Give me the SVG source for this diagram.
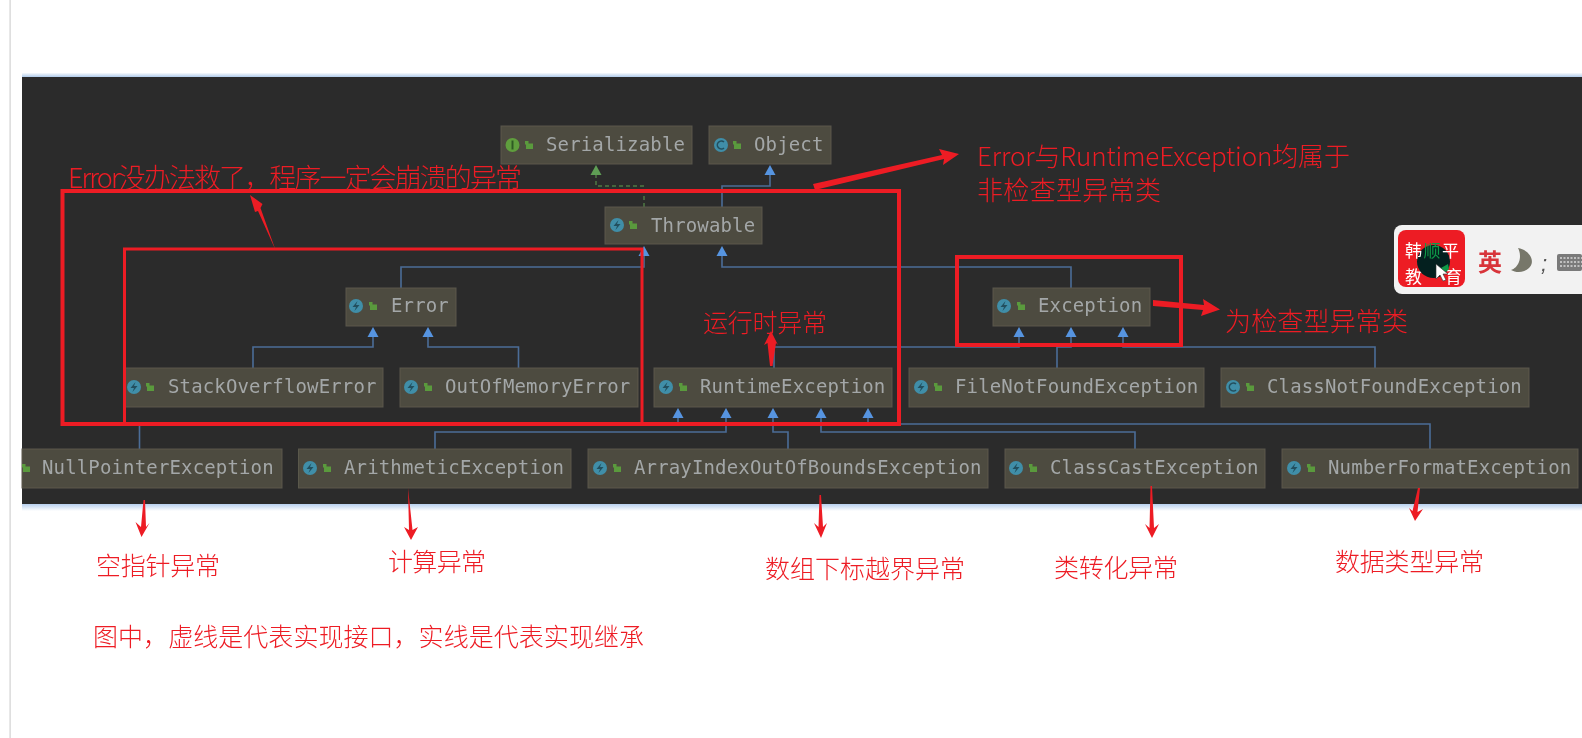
<svg xmlns="http://www.w3.org/2000/svg" xmlns:xlink="http://www.w3.org/1999/xlink" width="1582" height="738" viewBox="0 0 1582 738">
<style>
.n{fill:#4e4b3f;stroke:#5a584c;stroke-width:1}
.t{font-family:"DejaVu Sans Mono","Liberation Mono",monospace;font-size:19px;letter-spacing:.15px;fill:#a3a7a8}
.c{fill:none;stroke:#4c6d98;stroke-width:1.6}
.d{fill:none;stroke:#4f7a45;stroke-width:1.5;stroke-dasharray:4 3}
.r{fill:none;stroke:#ed1c24}
.a{fill:#ed1c24}
.h{font-family:"Noto Sans CJK SC","Noto Sans",sans-serif;font-weight:300;font-size:25px;fill:#ed1c24}
.w{font-family:"Noto Sans CJK SC",sans-serif;font-size:17px;fill:#fff}
</style>
<defs>
<linearGradient id="gt" x1="0" y1="0" x2="0" y2="1"><stop offset="0" stop-color="#fff"/><stop offset="1" stop-color="#b0cbea"/></linearGradient>
<linearGradient id="gb" x1="0" y1="0" x2="0" y2="1"><stop offset="0" stop-color="#b8d0ee"/><stop offset="1" stop-color="#fff"/></linearGradient>
<filter id="soft" x="-2%" y="-2%" width="104%" height="104%"><feGaussianBlur stdDeviation="0.45"/></filter>
<g id="lock"><rect x="-3" y="-1.500" width="7" height="5.500" fill="#5a9a3e"/><rect x="-4" y="-4" width="3.500" height="3.500" fill="#5a9a3e"/></g>
<g id="ie"><circle r="7" fill="#3f8ea8"/><path d="M1.500-5-3.500 1H0L-1.500 5 3.500-1H0z" fill="#24505e"/></g>
<g id="ic"><circle r="7" fill="#3f8ea8"/><path d="M3-3A4 4 0 1 0 3 3" fill="none" stroke="#24505e" stroke-width="1.600"/></g>
<g id="ii"><circle r="7" fill="#5f9e3e"/><rect x="-1" y="-4.500" width="2" height="9" fill="#2f5a22"/></g>
<path id="up" d="M0 0 5.500 10H-5.500z" fill="#5794e0"/>
<path id="ug" d="M0 0 5.500 10H-5.500z" fill="#5f9e55"/>
</defs>
<rect width="1582" height="738" fill="#fff"/>
<rect x="9.500" width="1.200" height="738" fill="#d2d2d2"/>
<rect x="22" y="72.500" width="1560" height="4.500" fill="url(#gt)"/>
<rect x="22" y="77" width="1560" height="427" fill="#2b2b2b"/>
<rect x="22" y="504" width="1560" height="7" fill="url(#gb)"/>

<g id="connectors" filter="url(#soft)">
<path class="d" d="M644 207V186H596V174"/>
<use xlink:href="#ug" x="596" y="165"/>
<path class="c" d="M722 207V186H770V174"/><use xlink:href="#up" x="770" y="165"/>
<path class="c" d="M401 288V267H644V255"/><use xlink:href="#up" x="644" y="246"/>
<path class="c" d="M1071 288V267H722V255"/><use xlink:href="#up" x="722" y="246"/>
<path class="c" d="M253 368V347H373V336"/><use xlink:href="#up" x="373" y="327"/>
<path class="c" d="M518.500 368V347H428V336"/><use xlink:href="#up" x="428" y="327"/>
<path class="c" d="M774 368V347H1019V336"/><use xlink:href="#up" x="1019" y="327"/>
<path class="c" d="M1057 368V347H1071V336"/><use xlink:href="#up" x="1071" y="327"/>
<path class="c" d="M1375 368V347H1123V336"/><use xlink:href="#up" x="1123" y="327"/>
<path class="c" d="M139.500 449V424H678V417"/><use xlink:href="#up" x="678" y="408"/>
<path class="c" d="M435 449V432H726V417"/><use xlink:href="#up" x="726" y="408"/>
<path class="c" d="M788 449V432H773V417"/><use xlink:href="#up" x="773" y="408"/>
<path class="c" d="M1135 449V432H821V417"/><use xlink:href="#up" x="821" y="408"/>
<path class="c" d="M1430 449V424H868V417"/><use xlink:href="#up" x="868" y="408"/>
</g>

<g id="nodes" filter="url(#soft)">
<g id="serializable"><rect class="n" x="501" y="126" width="191" height="38"/><use xlink:href="#ii" x="512.500" y="145"/><use xlink:href="#lock" x="529" y="145"/><text class="t" x="546" y="151">Serializable</text></g>
<g id="object"><rect class="n" x="709" y="126" width="122" height="38"/><use xlink:href="#ic" x="721" y="145"/><use xlink:href="#lock" x="737" y="145"/><text class="t" x="754" y="151">Object</text></g>
<g id="throwable"><rect class="n" x="605" y="207" width="157" height="37"/><use xlink:href="#ie" x="617" y="225"/><use xlink:href="#lock" x="633" y="225"/><text class="t" x="651" y="232">Throwable</text></g>
<g id="error"><rect class="n" x="346" y="288" width="110" height="38"/><use xlink:href="#ie" x="356" y="306"/><use xlink:href="#lock" x="373" y="306"/><text class="t" x="391" y="312">Error</text></g>
<g id="exception"><rect class="n" x="993" y="288" width="157" height="38"/><use xlink:href="#ie" x="1004" y="306"/><use xlink:href="#lock" x="1021" y="306"/><text class="t" x="1038" y="312">Exception</text></g>
<g id="stackoverflow"><rect class="n" x="124.500" y="368" width="258.500" height="39"/><use xlink:href="#ie" x="134" y="387"/><use xlink:href="#lock" x="150" y="387"/><text class="t" x="168" y="393">StackOverflowError</text></g>
<g id="outofmemory"><rect class="n" x="400" y="368" width="238" height="39"/><use xlink:href="#ie" x="411" y="387"/><use xlink:href="#lock" x="428" y="387"/><text class="t" x="445" y="393">OutOfMemoryError</text></g>
<g id="runtime"><rect class="n" x="654" y="368" width="238" height="39"/><use xlink:href="#ie" x="666" y="387"/><use xlink:href="#lock" x="683" y="387"/><text class="t" x="700" y="393">RuntimeException</text></g>
<g id="filenotfound"><rect class="n" x="909" y="368" width="295" height="39"/><use xlink:href="#ie" x="921" y="387"/><use xlink:href="#lock" x="938" y="387"/><text class="t" x="955" y="393">FileNotFoundException</text></g>
<g id="classnotfound"><rect class="n" x="1221" y="368" width="308" height="39"/><use xlink:href="#ic" x="1233" y="387"/><use xlink:href="#lock" x="1250" y="387"/><text class="t" x="1267" y="393">ClassNotFoundException</text></g>
<g id="nullpointer"><rect class="n" x="22" y="449" width="260" height="39"/><use xlink:href="#lock" x="26" y="468"/><text class="t" x="42" y="474">NullPointerException</text></g>
<g id="arithmetic"><rect class="n" x="298.500" y="449" width="272.500" height="39"/><use xlink:href="#ie" x="310" y="468"/><use xlink:href="#lock" x="327" y="468"/><text class="t" x="344" y="474">ArithmeticException</text></g>
<g id="arrayindex"><rect class="n" x="588" y="449" width="400" height="39"/><use xlink:href="#ie" x="600" y="468"/><use xlink:href="#lock" x="617" y="468"/><text class="t" x="634" y="474">ArrayIndexOutOfBoundsException</text></g>
<g id="classcast"><rect class="n" x="1005" y="449" width="260" height="39"/><use xlink:href="#ie" x="1016" y="468"/><use xlink:href="#lock" x="1033" y="468"/><text class="t" x="1050" y="474">ClassCastException</text></g>
<g id="numberformat"><rect class="n" x="1282" y="449" width="296" height="39"/><use xlink:href="#ie" x="1294" y="468"/><use xlink:href="#lock" x="1311" y="468"/><text class="t" x="1328" y="474">NumberFormatException</text></g>
</g>

<g id="annotation-boxes">
<rect class="r" x="62.500" y="191" width="836.500" height="233" stroke-width="4"/>
<rect class="r" x="124.500" y="249" width="517.500" height="175" stroke-width="3"/>
<rect class="r" x="957" y="257" width="224" height="88" stroke-width="4"/>
</g>
<g id="annotation-arrows">
<path class="a" d="M275.500 250 260.500 208 262.500 204 250 195 255 212 258 211z"/>
<path class="a" d="M813 184 942 155 939 149 959 154 943 165 944 159 815 190z"/>
<path class="a" d="M1153 300 1204 305 1203 299 1220 309.500 1201 316 1203 310 1153 306z"/>
<path class="a" d="M772.500 366 776 343 778 345 771 331 764 345 767.500 343 770 366z"/>
<path class="a" d="M145 500 146 527 149.500 523 141.500 537 135.500 522 141 527 143.500 500z"/>
<path class="a" d="M408 488 412.500 530 418 527 411 540 404 527 409 530z"/>
<path class="a" d="M819.500 495 818.500 527 814 523 821 538 827 523 823 527 821 495z"/>
<path class="a" d="M1150.500 486 1149.500 528 1145 524 1152 538 1159 524 1154 528 1152 486z"/>
<path class="a" d="M1418 488 1412.500 511 1409 508 1415 521 1423 509 1417.500 512 1420 488z"/>
</g>
<g id="annotation-text">
<text class="h" x="68" y="188" textLength="454" style="font-size:27px">Error没办法救了，程序一定会崩溃的异常</text>
<text class="h" x="977" y="166" textLength="373" style="font-size:26px">Error与RuntimeException均属于</text>
<text class="h" x="977" y="200" textLength="184" style="font-size:26px">非检查型异常类</text>
<text class="h" x="1225" y="331" textLength="183" style="font-size:26px">为检查型异常类</text>
<text class="h" x="703" y="332" textLength="124">运行时异常</text>
<text class="h" x="96" y="575" textLength="124">空指针异常</text>
<text class="h" x="388" y="571" textLength="98">计算异常</text>
<text class="h" x="765" y="578" textLength="200">数组下标越界异常</text>
<text class="h" x="1054" y="577" textLength="124">类转化异常</text>
<text class="h" x="1335" y="571" textLength="149">数据类型异常</text>
<text class="h" x="93" y="646" textLength="551">图中，虚线是代表实现接口，实线是代表实现继承</text>
</g>
<g id="ime-widget">
<path d="M1582 225H1402a8 8 0 0 0-8 8V286a8 8 0 0 0 8 8H1582z" fill="#f2f2f2"/>
<rect x="1398" y="230" width="67" height="57" rx="8" fill="#ed1c24"/>
<text class="w" x="1405" y="283">教</text>
<text class="w" x="1445" y="283">育</text>
<circle cx="1433.500" cy="261.500" r="16.500" fill="#04201f"/>
<text class="w" x="1405" y="257" textLength="54">韩<tspan style="fill:#0f9a48">顺</tspan>平</text>
<path d="M1441 268l7-4 1 5-6 5z" fill="#0f9a48"/>
<path d="M1436 264V279L1440 275 1443 281 1446 280 1443 274H1448z" fill="#fff" stroke="#333" stroke-width=".6"/>
<text x="1478" y="271" style="font-family:'Noto Sans CJK SC',sans-serif;font-weight:700;font-size:24px;fill:#d8343a">英</text>
<path d="M1518 248C1530 250 1536 262 1529 268 1524 273 1516 273 1511 270 1518 268 1523 258 1518 248z" fill="#77776a"/>
<text x="1541" y="271" style="font-family:'Liberation Sans',sans-serif;font-style:italic;font-size:22px;fill:#555">;</text>
<rect x="1557" y="254" width="25" height="17" rx="2" fill="#7a7a7a"/>
<path d="M1560 258h22M1560 262h22M1560 266h22" stroke="#d8d8d8" stroke-width="1.500" stroke-dasharray="2 1.500"/>
</g>
</svg>
